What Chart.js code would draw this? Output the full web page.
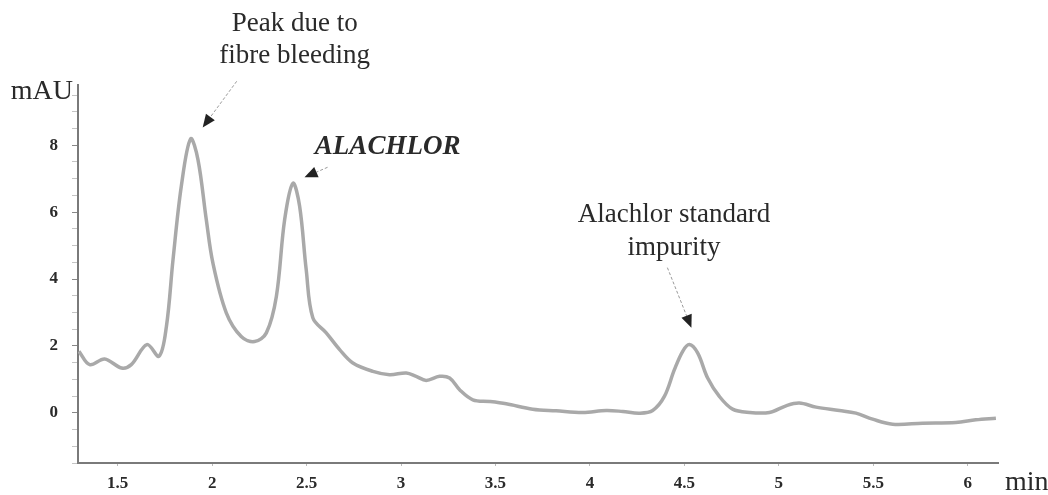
<!DOCTYPE html>
<html>
<head>
<meta charset="utf-8">
<title>Chromatogram</title>
<script src="https://cdn.jsdelivr.net/npm/chart.js@4"></script>
<style>
  body { margin: 0; background: #fff; }
  canvas { display: block; }
</style>
</head>
<body>
<canvas id="myChart" width="1048" height="495"></canvas>
<script>
// retention time (min) and signal (mAU)
const retentionTimes = [1.295, 1.352, 1.431, 1.52, 1.572, 1.655, 1.719, 1.758, 1.793, 1.837,
  1.886, 1.925, 1.969, 2.004, 2.075, 2.154, 2.225, 2.287, 2.34, 2.384,
  2.428, 2.463, 2.498, 2.533, 2.604, 2.675, 2.745, 2.851, 2.939, 3.028,
  3.08, 3.133, 3.204, 3.257, 3.31, 3.38, 3.468, 3.557, 3.697, 3.821,
  3.962, 4.086, 4.174, 4.262, 4.332, 4.394, 4.447, 4.491, 4.526, 4.57,
  4.623, 4.685, 4.755, 4.844, 4.95, 5.038, 5.108, 5.197, 5.32, 5.408,
  5.496, 5.602, 5.761, 5.937, 6.043, 6.149];
const absorbance = [1.84, 1.44, 1.61, 1.34, 1.44, 2.04, 1.69, 2.58, 4.58, 6.78,
  8.19, 7.57, 5.78, 4.48, 2.99, 2.28, 2.13, 2.39, 3.48, 5.78,
  6.86, 6.18, 4.28, 2.84, 2.39, 1.89, 1.49, 1.24, 1.14, 1.19,
  1.09, 0.97, 1.09, 1.04, 0.69, 0.39, 0.34, 0.27, 0.11, 0.06,
  0.01, 0.07, 0.04, -0.01, 0.07, 0.49, 1.29, 1.84, 2.04, 1.79,
  1.04, 0.49, 0.11, 0.01, 0.01, 0.21, 0.29, 0.17, 0.07, -0.01,
  -0.19, -0.34, -0.31, -0.29, -0.21, -0.16];

const xTicks = [1.5, 2, 2.5, 3, 3.5, 4, 4.5, 5, 5.5, 6];
const xTickLabels = ['1.5', '2', '2.5', '3', '3.5', '4', '4.5', '5', '5.5', '6'];
const yTicks = [0, 2, 4, 6, 8];
const yTickLabels = ['0', '2', '4', '6', '8'];

// callouts, in data units: text lines, text anchor, arrow start and tip
const callouts = [
  { lines: ['Peak due to', 'fibre bleeding'], x: 2.437, y: [11.62, 10.66], font: '27px "Liberation Serif"',
    from: [2.13, 9.91], to: [1.95, 8.53] },
  { lines: ['ALACHLOR'], x: 2.929, y: [7.96], font: 'italic bold 27px "Liberation Serif"',
    from: [2.611, 7.34], to: [2.489, 7.04] },
  { lines: ['Alachlor standard', 'impurity'], x: 4.445, y: [5.93, 4.94], font: '27px "Liberation Serif"',
    from: [4.41, 4.34], to: [4.537, 2.54] }
];

let points = [];
for (let i = 0; i < retentionTimes.length; i++) {
  points.push({ x: retentionTimes[i], y: absorbance[i] });
}

// y ticks every 0.5, labels only on the even ones
let yMinor = [];
for (let v = -1.5; v <= 9.5; v += 0.5) yMinor.push(v);

const annotations = {
  id: 'annotations',
  afterDraw(chart) {
    const ctx = chart.ctx;
    const xs = chart.scales.x, ys = chart.scales.y;
    const area = chart.chartArea;
    ctx.save();
    ctx.fillStyle = '#2a2a2a';
    ctx.textAlign = 'center';
    ctx.textBaseline = 'middle';
    callouts.forEach(c => {
      ctx.font = c.font;
      c.lines.forEach((t, i) => {
        ctx.fillText(t, xs.getPixelForValue(c.x), ys.getPixelForValue(c.y[i]));
      });
      let x1 = xs.getPixelForValue(c.from[0]), y1 = ys.getPixelForValue(c.from[1]);
      let x2 = xs.getPixelForValue(c.to[0]), y2 = ys.getPixelForValue(c.to[1]);
      let ang = Math.atan2(y2 - y1, x2 - x1);
      let hl = 13, hw = 5.5;
      let bx = x2 - hl * Math.cos(ang), by = y2 - hl * Math.sin(ang);
      ctx.strokeStyle = '#999';
      ctx.lineWidth = 1;
      ctx.setLineDash([3, 2]);
      ctx.beginPath();
      ctx.moveTo(x1, y1);
      ctx.lineTo(bx, by);
      ctx.stroke();
      ctx.setLineDash([]);
      ctx.fillStyle = '#222';
      ctx.beginPath();
      ctx.moveTo(x2, y2);
      ctx.lineTo(bx + hw * Math.sin(ang), by - hw * Math.cos(ang));
      ctx.lineTo(bx - hw * Math.sin(ang), by + hw * Math.cos(ang));
      ctx.closePath();
      ctx.fill();
      ctx.fillStyle = '#2a2a2a';
    });
    // axis titles
    ctx.font = '28px "Liberation Serif"';
    ctx.textAlign = 'right';
    ctx.fillText('mAU', area.left - 5, area.top + 7);
    ctx.textAlign = 'left';
    ctx.fillText('min', area.right + 7, area.bottom + 20);
    ctx.restore();
  }
};

let ctx = document.getElementById('myChart').getContext('2d');
let myChart = new Chart(ctx, {
  type: 'line',
  data: {
    datasets: [{
      data: points,
      borderColor: '#a9a9a9',
      borderWidth: 3.5,
      pointRadius: 0,
      tension: 0.35,
      fill: false
    }]
  },
  options: {
    responsive: false,
    animation: false,
    layout: { padding: { top: 85, right: 50, left: 0, bottom: 0 } },
    plugins: { legend: { display: false }, tooltip: { enabled: false } },
    scales: {
      x: {
        type: 'linear',
        min: 1.29,
        max: 6.16,
        afterBuildTicks: (scale) => { scale.ticks = xTicks.map(v => ({ value: v })); },
        afterFit: (scale) => { scale.height = 32; },
        border: { color: '#7a7a7a', width: 2 },
        grid: { drawOnChartArea: false, tickLength: 3, color: '#bbb' },
        ticks: {
          autoSkip: false,
          maxRotation: 0,
          padding: 7,
          color: '#2a2a2a',
          font: { family: '"Liberation Serif"', size: 17, weight: 'bold' },
          callback: (value, index) => xTickLabels[index]
        }
      },
      y: {
        type: 'linear',
        min: -1.5,
        max: 9.8,
        afterBuildTicks: (scale) => { scale.ticks = yMinor.map(v => ({ value: v })); },
        afterFit: (scale) => { scale.width = 78; },
        border: { color: '#7a7a7a', width: 2 },
        grid: {
          drawOnChartArea: false,
          tickLength: 6,
          color: (c) => yTicks.includes(c.tick.value) ? '#888' : '#c4c4c4'
        },
        ticks: {
          autoSkip: false,
          padding: 14,
          color: '#2a2a2a',
          font: { family: '"Liberation Serif"', size: 17, weight: 'bold' },
          callback: function(value) {
            let i = yTicks.indexOf(value);
            return i >= 0 ? yTickLabels[i] : '';
          }
        }
      }
    }
  },
  plugins: [annotations]
});
</script>
</body>
</html>
